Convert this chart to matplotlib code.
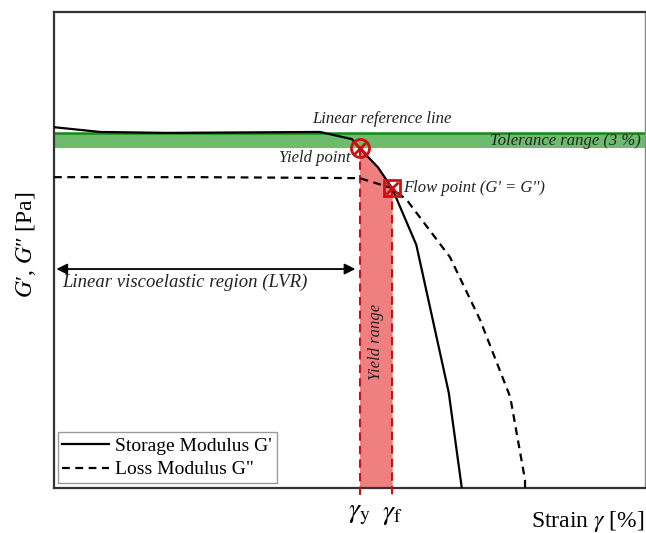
import numpy as np
import matplotlib.pyplot as plt

plt.rcParams['font.family'] = ['Liberation Serif', 'DejaVu Serif']
plt.rcParams['mathtext.fontset'] = 'stix'

# schematic amplitude sweep (arbitrary units, 0-100 on both axes)
strain_storage = [0, 7.8, 19.1, 45.0, 50.4, 51.7, 54.8, 57.2, 61.3, 66.8, 69.0]
g_storage = [75.8, 74.8, 74.6, 74.8, 73.3, 71.4, 67.4, 63.0, 51.1, 20.0, 0]

strain_loss = [0, 24.7, 51.7, 57.2, 59.7, 67.0, 72.1, 77.2, 79.7, 79.7]
g_loss = [65.3, 65.3, 65.1, 63.0, 60.5, 48.5, 35.3, 19.1, 1.7, 0]

ref_level = 74.6
tol_level = 71.4
yield_x, yield_y = 51.7, 71.4
flow_x, flow_y = 57.2, 63.0
lvr_arrow_y = 46.0

red = '#cc1111'

fig = plt.figure(figsize=(6.46, 5.33), dpi=100)
ax = fig.add_axes([54 / 646, 45 / 533, 591 / 646, 476 / 533])
ax.set_xlim(0, 100)
ax.set_ylim(0, 100)
ax.set_xticks([])
ax.set_yticks([])
for side in ['left', 'top', 'bottom']:
    ax.spines[side].set_color('#333333')
    ax.spines[side].set_linewidth(1.6)
ax.spines['right'].set_color('#888888')
ax.spines['right'].set_linewidth(1.0)

# tolerance band under the linear reference line
ax.axhspan(tol_level, ref_level, color='#6dbb6d', lw=0, zorder=1)
ax.axhline(ref_level, color='#138a13', lw=1.8, zorder=2)

# yield range between yield point and flow point
sx = np.array(strain_storage)
sy = np.array(g_storage)
mask = (sx >= yield_x) & (sx <= flow_x)
ax.fill_between(sx[mask], 0, sy[mask], color='#f08080', lw=0, zorder=1)
for xv, yv in [(yield_x, yield_y), (flow_x, flow_y)]:
    ax.plot([xv, xv], [yv, -1.6], color=red, lw=1.5, ls=(0, (4, 2.5)),
            clip_on=False, zorder=3)

ax.plot(strain_storage, g_storage, color='black', lw=1.6, zorder=4,
        label="Storage Modulus G'")
ax.plot(strain_loss, g_loss, color='black', lw=1.6, ls=(0, (3.5, 2.5)),
        zorder=4, label='Loss Modulus G"')

# yield point (circle) and flow point (square)
ax.plot(yield_x, yield_y, marker='o', ms=13, mfc='none', mec=red, mew=2, zorder=5)
ax.plot(yield_x, yield_y, marker='x', ms=9, mec=red, mew=2, zorder=5)
ax.plot(flow_x, flow_y, marker='s', ms=12, mfc='none', mec=red, mew=2, zorder=5)
ax.plot(flow_x, flow_y, marker='x', ms=8, mec=red, mew=2, zorder=5)

# LVR arrow
ax.annotate('', xy=(0.4, lvr_arrow_y), xytext=(51.0, lvr_arrow_y),
            arrowprops=dict(arrowstyle='<|-|>', color='black', lw=1.3,
                            mutation_scale=16, shrinkA=0, shrinkB=0))

it = dict(style='italic', fontsize=12, color='#222222')
ax.text(22.2, 43.2, 'Linear viscoelastic region (LVR)', ha='center', va='center',
        style='italic', fontsize=13.5, color='#222222')
ax.text(55.5, 77.5, 'Linear reference line', ha='center', va='center', **it)
ax.text(99.2, 72.8, 'Tolerance range (3 %)', ha='right', va='center', **it)
ax.text(50.2, 69.3, 'Yield point', ha='right', va='center', **it)
ax.text(59.0, 63.0, "Flow point (G' = G'')", ha='left', va='center', **it)
ax.text(54.5, 30.7, 'Yield range', ha='center', va='center', rotation=90, **it)

ax.text(yield_x, -5.5, r'$\gamma_{\mathrm{y}}$', ha='center', va='center',
        fontsize=20, clip_on=False)
ax.text(flow_x, -5.5, r'$\gamma_{\mathrm{f}}$', ha='center', va='center',
        fontsize=20, clip_on=False)

fig.text(645 / 646, 12 / 533, r'Strain $\gamma$ [%]', ha='right', va='center', fontsize=17)
fig.text(26 / 646, 288 / 533, '$G$\u2032, $G$\u2033 [Pa]', ha='center', va='center',
         rotation=90, fontsize=17)

leg = ax.legend(loc='lower left', bbox_to_anchor=(0.006, 0.01), borderaxespad=0,
                fancybox=False, framealpha=1, edgecolor='#999999', fontsize=14,
                handlelength=2.4, handletextpad=0.3, borderpad=0.25,
                labelspacing=0.3)
leg.get_frame().set_linewidth(1.0)

fig.savefig('out.png', dpi=100)
